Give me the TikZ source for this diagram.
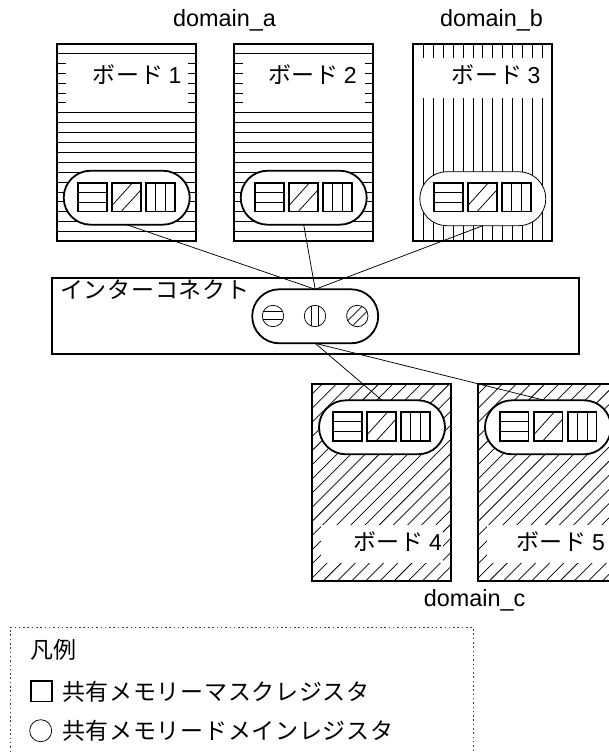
\documentclass[tikz,border=0pt]{standalone}
\usepackage{fontspec}
\setmainfont{Liberation Sans}
\newfontfamily\jpf[LetterSpace=3]{Noto Sans CJK JP}
\usetikzlibrary{shapes.misc}
\tikzset{
  thinln/.style={line width=0.75pt,black},
  thickln/.style={line width=1.8pt,black},
  boardbox/.style={draw,thickln,minimum width=139pt,minimum height=197pt,inner sep=0pt,outer sep=0pt},
  gap/.style={fill=white,draw=none},
  pillbig/.style={rounded rectangle,draw,thickln,fill=white,minimum width=126pt,minimum height=54pt,inner sep=0pt,outer sep=0pt},
  regbox/.style={rectangle,draw,thickln,minimum size=28.5pt,inner sep=0pt,outer sep=0pt},
  dom/.style={font=\fontsize{23.4}{26}\selectfont,inner sep=0pt,anchor=base},
  lab/.style={font=\fontsize{23}{26}\selectfont,inner sep=0pt,anchor=base},
  leg/.style={font=\fontsize{23}{26}\selectfont,inner sep=0pt,anchor=west},
  dot/.style={line width=1pt,black!75,dash pattern=on 1.5pt off 2.8pt},
  cn/.style={thinln},
  small/.style={circle,draw,thinln,minimum size=21.4pt,inner sep=0pt,outer sep=0pt}
}
% #1 prefix, #2 = left x of first square, #3 = centre y
\newcommand{\regs}[3]{%
  \node[regbox] (#1x) at (#2+14.2,#3) {};
  \node[regbox] (#1y) at (#2+48.2,#3) {};
  \node[regbox] (#1z) at (#2+82.2,#3) {};
  \draw[thinln] (#2,#3-5) -- (#2+28.4,#3-5) (#2,#3+5) -- (#2+28.4,#3+5);
  \draw[thinln] (#2+34,#3+8) -- (#2+54,#3-14.2) (#2+43,#3+14.2) -- (#2+62.4,#3-7);
  \draw[thinln] (#2+77.2,#3-14.2) -- (#2+77.2,#3+14.2) (#2+87.2,#3-14.2) -- (#2+87.2,#3+14.2);
}
\newcommand{\bd}[1]{{\jpf ボード}\hspace{5.5pt}#1}
\begin{document}
\begin{tikzpicture}[x=1pt,y=-1pt]
\useasboundingbox (0,0) rectangle (609,752);
\clip (0,0) rectangle (609,752);
% Board 1
\begin{scope}
  \clip (57,44) rectangle (196,241);
  \foreach \k in {0,...,18} \draw[thinln] (57,53.3+9.9*\k) -- (196,53.3+9.9*\k);
  \fill[gap] (66,54.2) rectangle (188,102.5);
\end{scope}
\node[boardbox] (b1) at (126.5,142.5) {};
% Board 2
\begin{scope}
  \clip (234,44) rectangle (373,241);
  \foreach \k in {0,...,18} \draw[thinln] (234,53.3+9.9*\k) -- (373,53.3+9.9*\k);
  \fill[gap] (243,54.2) rectangle (365,102.5);
\end{scope}
\node[boardbox] (b2) at (303.5,142.5) {};
% Board 3
\begin{scope}
  \clip (413,44) rectangle (552,241);
  \foreach \k in {0,...,12} \draw[thinln] (423.4+9.9*\k,44) -- (423.4+9.9*\k,241);
  \fill[gap] (413,58.5) rectangle (552,98);
\end{scope}
\node[boardbox] (b3) at (482.5,142.5) {};
% Board 4
\begin{scope}
  \clip (312,384) rectangle (451,581);
  \foreach \k in {0,...,26} \draw[thinln] (309+14.15*\k-200,581+2) -- (309+14.15*\k+10,373);
  \fill[gap] (321,525) rectangle (443,563);
\end{scope}
\node[boardbox] (b4) at (381.5,482.5) {};
% Board 5
\begin{scope}
  \clip (478,384) rectangle (617,581);
  \foreach \k in {0,...,26} \draw[thinln] (475+14.15*\k-200,581+2) -- (475+14.15*\k+10,373);
  \fill[gap] (487,525) rectangle (609,563);
\end{scope}
\node[boardbox] (b5) at (547.5,482.5) {};
% Board labels
\node[lab] (l1) at (137,83.6) {\bd{1}};
\node[lab] (l2) at (312.4,83.6) {\bd{2}};
\node[lab] (l3) at (496,83.6) {\bd{3}};
\node[lab] (l4) at (397.5,550) {\bd{4}};
\node[lab] (l5) at (560.5,550) {\bd{5}};
% Domains
\node[dom] (da) at (224.5,26.7) {domain\_a};
\node[dom] (db) at (491.5,26.7) {domain\_b};
\node[dom] (dc) at (474.6,606) {domain\_c};
% Pills
\node[pillbig] (p1) at (126.7,197.7) {};
\node[pillbig] (p2) at (303.7,197.7) {};
\node[pillbig,line width=0.8pt] (p3) at (482.8,198.7) {};
\node[pillbig] (p4) at (382,427.3) {};
\node[pillbig] (p5) at (548,427.3) {};
\regs{ra}{78.3}{197.2}
\regs{rb}{255.3}{197.2}
\regs{rc}{434.2}{197.2}
\regs{rd}{333.3}{426.5}
\regs{re}{500}{426.5}
% Interconnect
\node[rectangle,draw,thickln,fill=white,minimum width=527pt,minimum height=76pt,inner sep=0pt,outer sep=0pt] (ic) at (315.2,316.3) {};
\node[lab,anchor=center] (ict) at (154.7,290) {{\jpf インターコネクト}};
\node[pillbig] (pi) at (315.2,316.3) {};
\node[small] (c1) at (273,316) {};
\node[small] (c2) at (315,316) {};
\node[small] (c3) at (357.3,316) {};
\draw[line width=1.1pt] (c1.center)++(-9.8,-4.3) -- ++(19.6,0);
\draw[thinln] (c1.center)++(-10.1,3.3) -- ++(20.2,0);
\draw[thinln] (c2.center)++(-3.3,-10.1) -- ++(0,20.2) (c2.center)++(3.7,-10) -- ++(0,20);
\draw[thinln] (c3.center)++(-9.65,4.65) -- ++(14.3,-14.3) (c3.center)++(-4.65,9.65) -- ++(14.3,-14.3);
% Connectors
\coordinate (p5top) at (543.3,400);
\draw[cn] (p1.south) -- (pi.north);
\draw[cn] (p2.south) -- (pi.north);
\draw[cn] (p3.south) -- (pi.north);
\draw[cn] (pi.south) -- (p4.north);
\draw[cn] (pi.south) -- (p5top);
% Legend
\coordinate (lgA) at (10,752);
\coordinate (lgB) at (10,627.5);
\coordinate (lgC) at (473,627.5);
\coordinate (lgD) at (473,752);
\draw[dot] (lgA) -- (lgB) -- (lgC) -- (lgD);
\node[leg] (lg0) at (30,650) {{\jpf 凡例}};
\node[rectangle,draw,thickln,minimum width=21pt,minimum height=20.5pt,inner sep=0pt] (lgs) at (41.5,691.2) {};
\node[leg] (lg1) at (62,692) {{\jpf 共有メモリーマスクレジスタ}};
\node[circle,draw,thinln,minimum size=22pt,inner sep=0pt] (lgc) at (40.7,730.7) {};
\node[leg] (lg2) at (62,731) {{\jpf 共有メモリードメインレジスタ}};
\end{tikzpicture}
\end{document}
